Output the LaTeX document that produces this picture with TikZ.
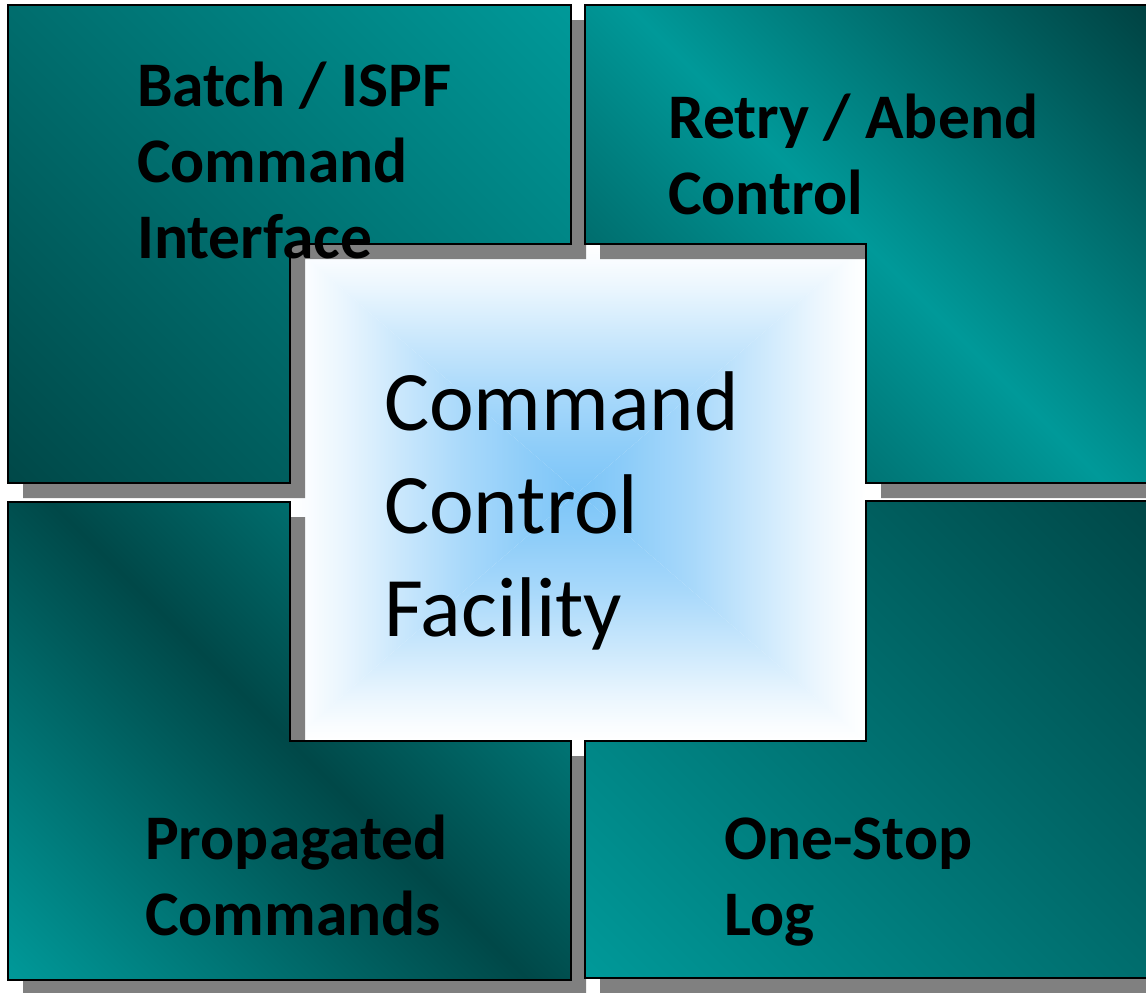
\documentclass[tikz,border=0pt]{standalone}
\usepackage{fontspec}
\setmainfont{Carlito}
\definecolor{tlight}{RGB}{0,153,153}
\definecolor{tdark}{RGB}{0,72,72}
\definecolor{tdeep}{RGB}{0,66,66}
\definecolor{cblue}{RGB}{124,197,248}
\definecolor{shadowgray}{RGB}{128,128,128}
% diagonal teal fills; 14.6bp and 85.4bp fall on the lower-left and upper-right corners at 45 degrees
\pgfdeclarehorizontalshading{tealrise}{100bp}{color(0bp)=(tdark); color(14.6bp)=(tdark); color(85.4bp)=(tlight); color(100bp)=(tlight)}
\pgfdeclarehorizontalshading{tealfall}{100bp}{color(0bp)=(tlight); color(14.6bp)=(tlight); color(85.4bp)=(tdark); color(100bp)=(tdark)}
\pgfdeclarehorizontalshading{tealhump}{100bp}{color(0bp)=(tdark); color(14.6bp)=(tdark); color(50bp)=(tlight); color(85.4bp)=(tdeep); color(100bp)=(tdeep)}
\pgfdeclarehorizontalshading{tealvalley}{100bp}{color(0bp)=(tlight); color(14.6bp)=(tlight); color(50bp)=(tdark); color(85.4bp)=(tlight); color(100bp)=(tlight)}
% soft blue core for the centre square, edge on top
\pgfdeclareverticalshading{ctrfade}{100bp}{color(0bp)=(cblue); color(25bp)=(cblue); color(33bp)=(cblue!88!white); color(45bp)=(cblue!66!white); color(57bp)=(cblue!38!white); color(66bp)=(cblue!16!white); color(72bp)=(cblue!4!white); color(75bp)=(white); color(100bp)=(white)}
\tikzset{
  panelshadow/.style={fill=shadowgray, draw=none},
  panel/.style={draw=black, line width=1.4pt},
  panellabel/.style={anchor=base west, align=left, inner sep=0pt, text=black,
    font=\fontsize{63.5}{76}\selectfont\bfseries},
  corelabel/.style={anchor=base west, align=left, inner sep=0pt, text=black,
    font=\fontsize{84.7}{103}\selectfont},
}
\begin{document}
\begin{tikzpicture}[x=1pt,y=-1pt]
\useasboundingbox (0,0) rectangle (1146,993);
\clip (0,0) rectangle (1146,993);
\fill[white] (0,0) rectangle (1146,993);

% centre square with its blue core
\fill[white] (290,244) rectangle (881,756);
\coordinate (core) at (578,492.5);
\shade[shading=ctrfade] (290,244) -- (866,244) -- (core) -- cycle;
\shade[shading=ctrfade, shading angle=180] (290,741) -- (866,741) -- (core) -- cycle;
\shade[shading=ctrfade, shading angle=90] (290,244) -- (290,741) -- (core) -- cycle;
\shade[shading=ctrfade, shading angle=-90] (866,244) -- (866,741) -- (core) -- cycle;

% drop shadows of the four corner panels
\begin{scope}[shift={(15,15)}]
  \fill[panelshadow] (8,5) -- (571,5) -- (571,244) -- (290,244) -- (290,483) -- (8,483) -- cycle;
  \fill[panelshadow] (585,5) -- (1148,5) -- (1148,483) -- (866,483) -- (866,244) -- (585,244) -- cycle;
  \fill[panelshadow] (8,502) -- (290,502) -- (290,741) -- (571,741) -- (571,980) -- (8,980) -- cycle;
  \fill[panelshadow] (866,501) -- (1148,501) -- (1148,978) -- (585,978) -- (585,741) -- (866,741) -- cycle;
\end{scope}

% the four L-shaped panels around the centre
\shade[shading=tealrise, shading angle=45] (8,5) -- (571,5) -- (571,244) -- (290,244) -- (290,483) -- (8,483) -- cycle;
\draw[panel] (8,5) -- (571,5) -- (571,244) -- (290,244) -- (290,483) -- (8,483) -- cycle;
\shade[shading=tealhump, shading angle=45] (585,5) -- (1148,5) -- (1148,483) -- (866,483) -- (866,244) -- (585,244) -- cycle;
\draw[panel] (585,5) -- (1148,5) -- (1148,483) -- (866,483) -- (866,244) -- (585,244) -- cycle;
\shade[shading=tealvalley, shading angle=45] (8,502) -- (290,502) -- (290,741) -- (571,741) -- (571,980) -- (8,980) -- cycle;
\draw[panel] (8,502) -- (290,502) -- (290,741) -- (571,741) -- (571,980) -- (8,980) -- cycle;
\shade[shading=tealfall, shading angle=45] (866,501) -- (1148,501) -- (1148,978) -- (585,978) -- (585,741) -- (866,741) -- cycle;
\draw[panel] (866,501) -- (1148,501) -- (1148,978) -- (585,978) -- (585,741) -- (866,741) -- cycle;

% labels (anchored on the baseline of their last line)
\node[panellabel] (batch) at (137,258) {Batch / ISPF\\Command\\Interface};
\node[panellabel] (retry) at (668,214) {Retry / Abend\\Control};
\node[panellabel] (prop) at (145,935) {Propagated\\Commands};
\node[panellabel] (log) at (724,935) {One-Stop\\Log};
\node[corelabel] (ccf) at (384,636) {Command\\Control\\Facility};
\end{tikzpicture}
\end{document}
